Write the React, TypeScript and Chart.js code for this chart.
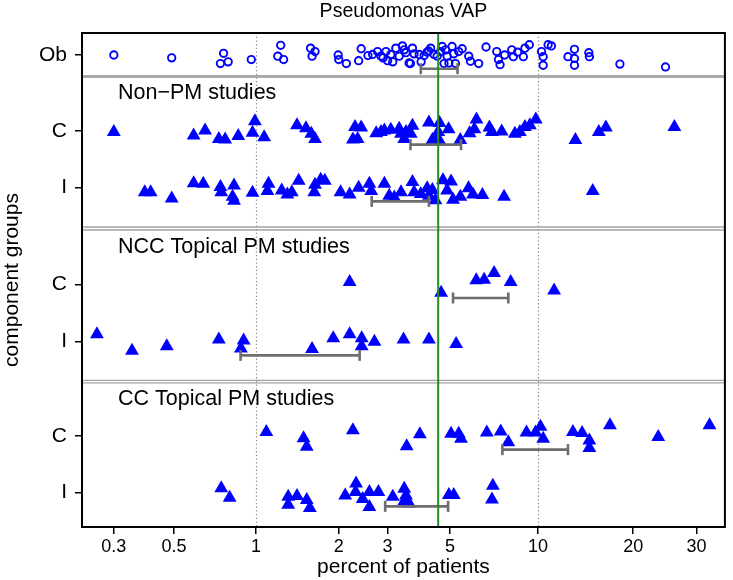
import React, { useEffect, useRef } from 'react';
import { Chart, registerables } from 'chart.js';

Chart.register(...registerables);

const FONT = "'Liberation Sans', Arial, Helvetica, sans-serif";

// x axis: percent of patients (logit scale)
const X_TICKS = [0.3, 0.5, 1, 2, 3, 5, 10, 20, 30];
const X_TICK_LABELS = ['0.3', '0.5', '1', '2', '3', '5', '10', '20', '30'];
const X_MIN = 0.229;
const X_MAX = 35.3;
const REF_LINE = 4.54;
const DOTTED_AT = [1, 10];

// y axis: component groups
const ROW_LABELS = ['Ob', 'C', 'I', 'C', 'I', 'C', 'I'];
const ROW_POS = [0.386, 1.719, 2.714, 4.409, 5.416, 7.07, 8.065];
const Y_MAX = 8.667;
const PANEL_TITLES = ['Non\u2212PM studies', 'NCC Topical PM studies', 'CC Topical PM studies'];
const PANEL_TITLE_POS = [1.058, 3.749, 6.421];
const SEP_BAND = [0.737, 0.789];
const SEP_LINES = [3.404, 3.456, 6.096, 6.14];
const CI_OFFSET = 0.24;

// points: [percent, vertical jitter (rows)]
const OB = [
  [0.30, 0.00], [0.49, 0.05], [0.76, -0.03], [0.74, 0.15], [0.79, 0.12], [0.96, 0.08],
  [1.23, -0.17], [1.20, 0.02], [1.26, 0.08], [1.58, -0.12], [1.64, -0.06], [1.60, 0.02],
  [1.99, 0.00], [2.00, 0.08], [2.13, 0.15], [2.41, -0.11], [2.36, 0.10], [2.55, 0.01],
  [2.65, -0.01], [2.76, -0.06], [2.84, 0.02], [2.96, -0.06], [3.00, 0.10], [3.08, -0.01],
  [3.21, -0.12], [3.30, 0.02], [3.39, -0.16], [3.44, -0.09], [3.49, -0.04], [3.58, 0.14],
  [3.68, -0.12], [3.73, -0.02], [3.62, 0.15], [3.89, -0.01], [4.05, 0.01], [4.27, -0.12],
  [4.39, -0.01], [4.50, 0.02], [4.69, -0.15], [4.63, -0.06], [4.82, -0.09], [4.88, 0.02],
  [4.95, 0.14], [4.76, 0.15], [5.08, -0.15], [5.15, -0.02], [5.22, 0.15], [5.36, -0.06],
  [5.51, -0.11], [5.81, 0.02], [5.89, 0.11], [6.29, 0.15], [6.67, -0.14], [7.26, -0.06],
  [7.36, 0.08], [7.45, 0.17], [7.73, 0.00], [8.17, -0.09], [8.27, 0.03], [8.55, -0.05],
  [8.94, 0.03], [9.05, -0.12], [9.36, -0.18], [10.28, -0.06], [10.41, 0.03], [10.41, 0.18],
  [10.81, -0.18], [11.08, -0.16], [12.55, 0.03], [13.17, -0.10], [13.17, 0.06], [13.17, 0.18],
  [14.63, -0.04], [14.69, 0.03], [18.25, 0.16], [24.76, 0.21], [3.13, 0.12], [4.15, -0.05],
  [2.89, 0.05], [4.20, -0.07], [3.95, 0.12],
];

const NONPM_C = [
  [0.30, 0.02], [0.59, 0.08], [0.65, -0.01], [0.73, 0.14], [0.77, 0.15], [0.86, 0.09],
  [0.99, -0.17], [0.97, 0.03], [1.07, 0.11], [1.41, -0.10], [1.52, -0.05], [1.59, 0.05],
  [1.64, 0.14], [2.29, -0.07], [2.41, -0.06], [2.25, 0.15], [2.34, 0.14], [2.73, 0.04],
  [2.84, 0.02], [2.92, -0.01], [3.08, -0.02], [3.30, -0.04], [3.35, 0.05], [3.49, 0.02],
  [3.44, 0.14], [3.68, -0.09], [3.63, 0.05], [4.21, -0.15], [4.59, -0.14], [4.54, 0.02],
  [4.44, 0.14], [4.33, 0.16], [4.57, 0.16], [4.94, -0.03], [5.43, 0.16], [5.85, 0.04],
  [6.18, -0.20], [6.08, -0.03], [6.85, -0.06], [6.99, 0.02], [7.55, 0.01], [8.37, 0.05],
  [8.70, 0.02], [9.05, -0.07], [9.40, -0.10], [9.84, -0.20], [13.26, 0.16], [15.72, 0.02],
  [16.54, -0.06], [26.2, -0.07],
];

const NONPM_I = [
  [0.39, 0.08], [0.41, 0.08], [0.49, 0.19], [0.59, -0.08], [0.64, -0.07], [0.74, -0.01],
  [0.745, 0.08], [0.83, -0.04], [0.82, 0.16], [0.83, 0.23], [0.97, 0.09], [1.11, -0.07],
  [1.10, 0.06], [1.24, 0.05], [1.30, 0.12], [1.35, 0.08], [1.43, -0.12], [1.64, -0.05],
  [1.72, -0.14], [1.78, -0.12], [1.63, 0.08], [2.03, 0.08], [2.19, 0.12], [2.36, 0.00],
  [2.58, -0.07], [2.62, 0.06], [2.92, -0.07], [3.04, 0.14], [3.17, 0.17], [3.35, 0.08],
  [3.68, -0.10], [3.73, 0.08], [3.94, 0.11], [4.15, 0.01], [4.33, 0.04], [4.21, 0.14],
  [4.44, 0.22], [4.72, -0.13], [5.04, -0.11], [4.88, 0.05], [5.12, 0.21], [5.43, 0.16],
  [5.80, 0.01], [6.01, 0.12], [6.48, 0.13], [7.69, 0.16], [15.05, 0.06],
];

const NCC_C = [
  [2.19, -0.04], [4.65, 0.15], [6.17, -0.07], [6.57, -0.08], [7.11, -0.20], [8.10, -0.04],
  [11.31, 0.11],
];

const NCC_I = [
  [0.26, -0.13], [0.35, 0.16], [0.47, 0.08], [0.73, -0.04], [0.90, -0.02], [0.88, 0.12],
  [1.60, 0.13], [1.91, -0.06], [2.19, -0.13], [2.42, -0.06], [2.42, 0.08], [2.69, 0.00],
  [3.42, -0.04], [4.21, -0.04], [5.25, 0.04],
];

const CC_C = [
  [1.09, -0.07], [1.49, 0.04], [1.53, 0.19], [2.25, -0.10], [3.51, 0.18], [3.91, -0.03],
  [5.04, -0.04], [5.36, -0.04], [5.46, 0.05], [6.71, -0.06], [7.49, -0.08], [7.95, 0.11],
  [9.16, -0.06], [9.82, -0.06], [10.20, -0.16], [10.41, 0.05], [13.02, -0.07], [13.93, -0.05],
  [14.69, 0.08], [14.69, 0.21], [17.02, -0.19], [23.63, 0.02], [32.37, -0.19],
];

const CC_I = [
  [0.745, -0.08], [0.80, 0.09], [1.31, 0.07], [1.41, 0.06], [1.31, 0.21], [1.53, 0.13],
  [1.57, 0.27], [2.11, 0.05], [2.31, -0.16], [2.30, -0.01], [2.44, 0.11], [2.58, -0.01],
  [2.78, -0.01], [2.58, 0.25], [3.13, 0.07], [3.44, -0.07], [3.49, 0.05], [3.44, 0.15],
  [3.58, 0.19], [4.95, 0.04], [5.15, 0.04], [7.04, -0.12], [6.99, 0.12],
];

// group interval bars (percent), one per row
const CI_LOW = [3.94, 3.62, 2.63, 5.12, 0.877, 7.59, 2.94];
const CI_HIGH = [5.31, 5.46, 4.21, 7.95, 2.38, 12.55, 4.92];

const ROWS = [OB, NONPM_C, NONPM_I, NCC_C, NCC_I, CC_C, CC_I];

const logit = (p: number) => Math.log(p / (100 - p));

const BLUE = '#0000ff';
const BAR_GRAY = '#6e6e6e';

const decorPlugin = {
  id: 'decor',
  beforeDatasetsDraw(chart: any) {
    const { ctx, chartArea: a, scales } = chart;
    const xs = scales.x;
    const ys = scales.y;
    ctx.save();
    ctx.beginPath();
    ctx.rect(a.left, a.top, a.right - a.left, a.bottom - a.top);
    ctx.clip();
    ctx.strokeStyle = '#8a8a8a';
    ctx.lineWidth = 1.2;
    ctx.setLineDash([1.3, 2.4]);
    for (const v of DOTTED_AT) {
      const px = Math.round(xs.getPixelForValue(logit(v))) + 0.5;
      ctx.beginPath();
      ctx.moveTo(px, a.top);
      ctx.lineTo(px, a.bottom);
      ctx.stroke();
    }
    ctx.setLineDash([]);
    ctx.fillStyle = '#aaaaaa';
    const b0 = ys.getPixelForValue(SEP_BAND[0]);
    const b1 = ys.getPixelForValue(SEP_BAND[1]);
    ctx.fillRect(a.left, b0, a.right - a.left, b1 - b0);
    ctx.strokeStyle = '#a2a2a2';
    ctx.lineWidth = 1.3;
    for (const v of SEP_LINES) {
      const py = ys.getPixelForValue(v);
      ctx.beginPath();
      ctx.moveTo(a.left, py);
      ctx.lineTo(a.right, py);
      ctx.stroke();
    }
    ctx.fillStyle = '#000';
    ctx.font = `21.5px ${FONT}`;
    ctx.textAlign = 'left';
    ctx.textBaseline = 'middle';
    PANEL_TITLES.forEach((t, i) => {
      ctx.fillText(t, a.left + 36, ys.getPixelForValue(PANEL_TITLE_POS[i]));
    });
    ctx.restore();
  },
  afterDatasetsDraw(chart: any) {
    const { ctx, chartArea: a, scales } = chart;
    const px = scales.x.getPixelForValue(logit(REF_LINE));
    ctx.save();
    ctx.strokeStyle = '#1f8f1f';
    ctx.lineWidth = 2;
    ctx.beginPath();
    ctx.moveTo(px, a.top);
    ctx.lineTo(px, a.bottom);
    ctx.stroke();
    ctx.strokeStyle = '#000';
    ctx.lineWidth = 2;
    ctx.strokeRect(a.left, a.top, a.right - a.left, a.bottom - a.top);
    ctx.restore();
  },
  afterDraw(chart: any) {
    const { ctx, chartArea: a } = chart;
    ctx.save();
    ctx.fillStyle = '#000';
    ctx.font = `19.5px ${FONT}`;
    ctx.textAlign = 'center';
    ctx.textBaseline = 'middle';
    ctx.fillText('Pseudomonas VAP', (a.left + a.right) / 2, 12);
    ctx.restore();
  },
};

export default function App() {
  const ref = useRef<HTMLCanvasElement>(null);

  useEffect(() => {
    if (!ref.current) return;
    Chart.defaults.font.family = FONT;
    Chart.defaults.color = '#000';

    const barSets = ROW_POS.map((pos, i) => ({
      label: 'interval ' + i,
      data: [
        { x: logit(CI_LOW[i]), y: pos + CI_OFFSET },
        { x: logit(CI_HIGH[i]), y: pos + CI_OFFSET },
      ],
      showLine: true,
      borderColor: BAR_GRAY,
      borderWidth: 2.6,
      pointStyle: 'line',
      pointRadius: 5.5,
      pointRotation: 90,
      pointBorderColor: BAR_GRAY,
      pointBorderWidth: 2.6,
      pointBackgroundColor: BAR_GRAY,
    }));

    const pointSets = ROWS.map((rows, i) => ({
      label: ROW_LABELS[i] + ' ' + i,
      data: rows.map(([p, j]) => ({ x: logit(p), y: ROW_POS[i] + j })),
      showLine: false,
      pointStyle: i === 0 ? 'circle' : 'triangle',
      pointRadius: i === 0 ? 3.7 : 8,
      pointBackgroundColor: i === 0 ? 'rgba(0,0,0,0)' : BLUE,
      pointBorderColor: BLUE,
      pointBorderWidth: i === 0 ? 1.9 : 0,
    }));

    const chart = new Chart(ref.current, {
      type: 'scatter',
      data: { datasets: [...barSets, ...pointSets] as any },
      options: {
        responsive: false,
        animation: false,
        events: [],
        layout: { padding: { top: 33, right: 3, left: 0, bottom: 0 } },
        plugins: { legend: { display: false }, tooltip: { enabled: false }, title: { display: false } },
        scales: {
          x: {
            type: 'linear',
            min: logit(X_MIN),
            max: logit(X_MAX),
            afterBuildTicks: (s: any) => {
              s.ticks = X_TICKS.map((v) => ({ value: logit(v) }));
            },
            afterFit: (s: any) => {
              s.height = 53;
            },
            ticks: {
              autoSkip: false,
              maxRotation: 0,
              padding: 2,
              color: '#000',
              font: { size: 18 },
              callback: (_v: any, i: number) => X_TICK_LABELS[i],
            },
            grid: { display: true, drawOnChartArea: false, drawTicks: true, tickLength: 7, color: '#000', lineWidth: 1.5 },
            border: { display: false },
            title: { display: true, text: 'percent of patients', color: '#000', font: { size: 21 }, padding: 0 },
          },
          y: {
            type: 'linear',
            reverse: true,
            min: 0,
            max: Y_MAX,
            afterBuildTicks: (s: any) => {
              s.ticks = ROW_POS.map((v) => ({ value: v }));
            },
            afterFit: (s: any) => {
              s.width = 82;
            },
            ticks: {
              autoSkip: false,
              padding: 8,
              color: '#000',
              font: { size: 21 },
              callback: (_v: any, i: number) => ROW_LABELS[i],
            },
            grid: { display: true, drawOnChartArea: false, drawTicks: true, tickLength: 7, color: '#000', lineWidth: 1.5 },
            border: { display: false },
            title: { display: true, text: 'component groups', color: '#000', font: { size: 21 }, padding: 0 },
          },
        },
      },
      plugins: [decorPlugin],
    } as any);

    return () => chart.destroy();
  }, []);

  return (
    <div style={{ position: 'absolute', left: 0, top: 0, width: 733, height: 580, background: '#fff' }}>
      <canvas ref={ref} width={733} height={580} style={{ display: 'block', width: 733, height: 580 }} />
    </div>
  );
}
